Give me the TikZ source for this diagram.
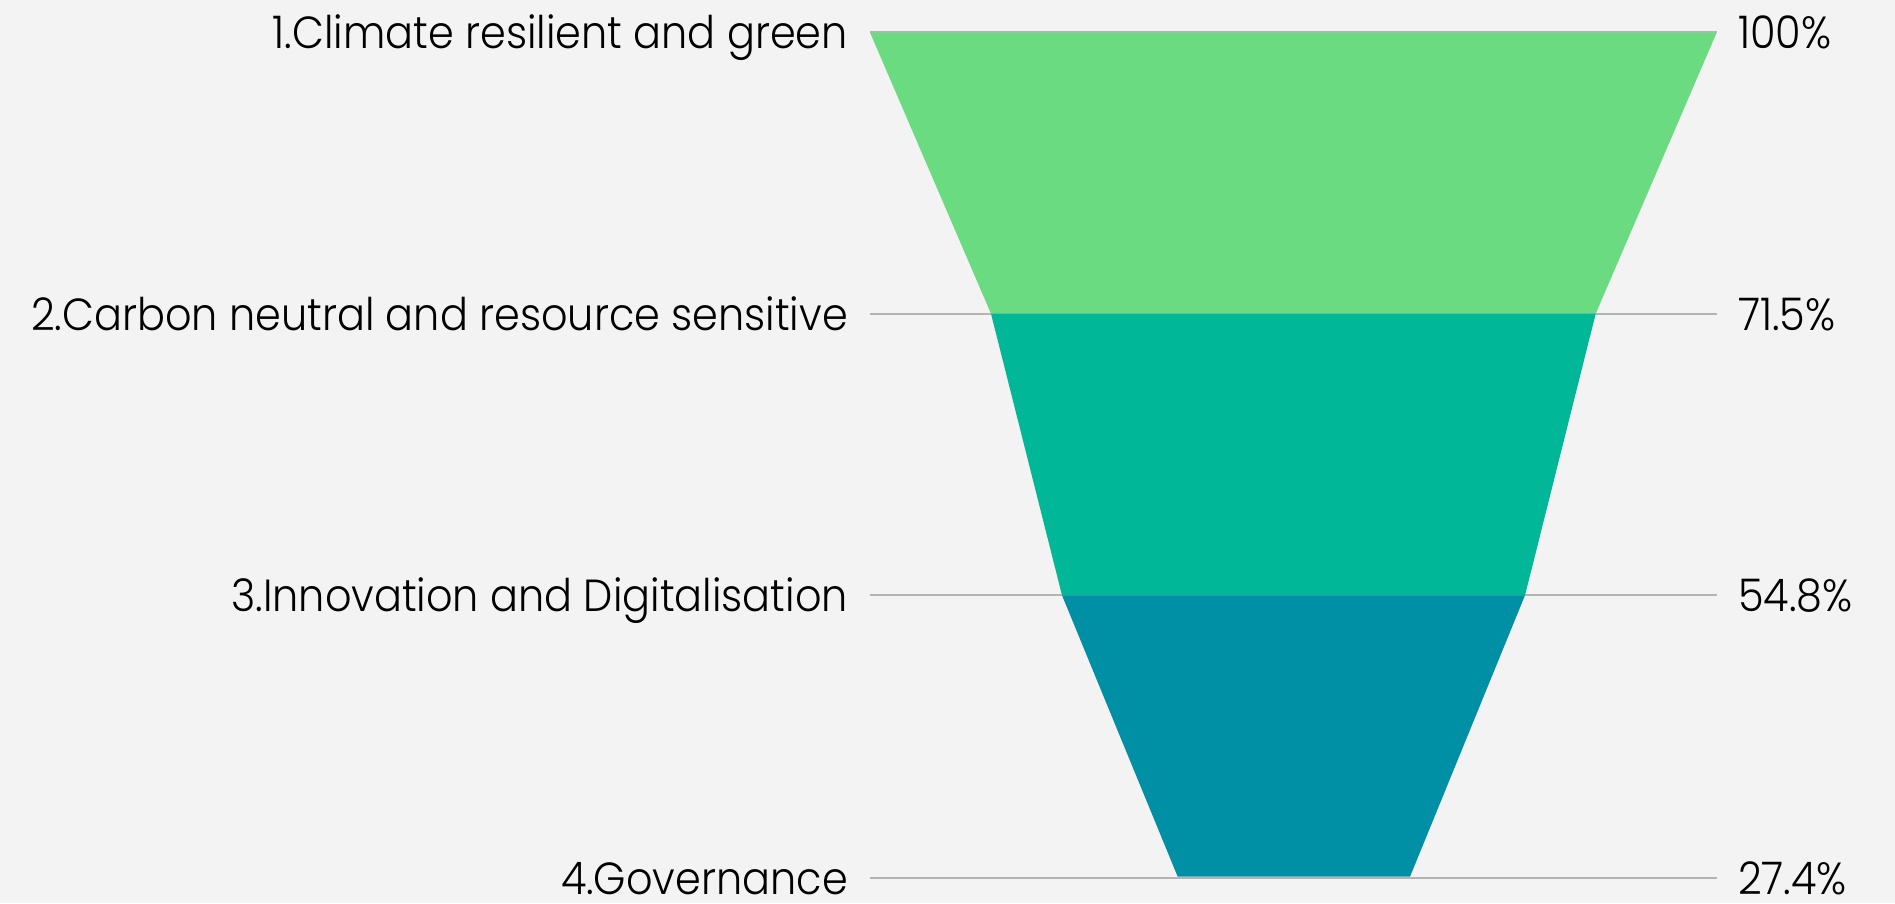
\documentclass[tikz,border=0pt]{standalone}
\usepackage{fontspec}
\setmainfont{Poppins}[UprightFont=* Light, FakeStretch=0.92]
\definecolor{bgc}{HTML}{F3F3F3}
\definecolor{gA}{HTML}{6ADB81}
\definecolor{gB}{HTML}{00B798}
\definecolor{gC}{HTML}{0090A5}
\definecolor{rule}{HTML}{B4B4B4}
\tikzset{
  lbl/.style={inner sep=0pt, font=\fontsize{45}{54}\selectfont, text=black},
  leftlbl/.style={lbl, anchor=base east},
  rightlbl/.style={lbl, anchor=base west},
  rulerline/.style={draw=rule, line width=2pt},
}
\begin{document}
\begin{tikzpicture}[x=1pt,y=-1pt]
\fill[bgc] (0,0) rectangle (1895,903);
\useasboundingbox (0,0) rectangle (1895,903);
% level coordinates
\coordinate (l1) at (870,31.5);  \coordinate (r1) at (1716.7,31.5);
\coordinate (l2) at (870,313.7); \coordinate (r2) at (1716.7,313.7);
\coordinate (l3) at (870,595.3); \coordinate (r3) at (1716.7,595.3);
\coordinate (l4) at (870,877.7); \coordinate (r4) at (1716.7,877.7);
\draw[rulerline] (l1) -- (r1);
\draw[rulerline] (l2) -- (r2);
\draw[rulerline] (l3) -- (r3);
\draw[rulerline] (l4) -- (r4);
% funnel
\fill[gA] (870,32.5) -- (1716.7,32.5) -- (1595.7,313.7) -- (991,313.7) -- cycle;
\fill[gB] (991,313.7) -- (1595.7,313.7) -- (1525,595.3) -- (1062,595.3) -- cycle;
\fill[gC] (1062,595.3) -- (1525,595.3) -- (1410,876.7) -- (1177.7,876.7) -- cycle;
% labels
\node[leftlbl] (t1) at (848,48) {1.Climate resilient and green};
\node[leftlbl] (t2) at (848,330.2) {2.Carbon neutral and resource sensitive};
\node[leftlbl] (t3) at (848,611.8) {3.Innovation and Digitalisation};
\node[leftlbl] (t4) at (848,894.2) {4.Governance};
\node[rightlbl] (p1) at (1738,48) {100\%};
\node[rightlbl] (p2) at (1738,330.2) {71.5\%};
\node[rightlbl] (p3) at (1738,611.8) {54.8\%};
\node[rightlbl] (p4) at (1738,894.2) {27.4\%};
\end{tikzpicture}
\end{document}
